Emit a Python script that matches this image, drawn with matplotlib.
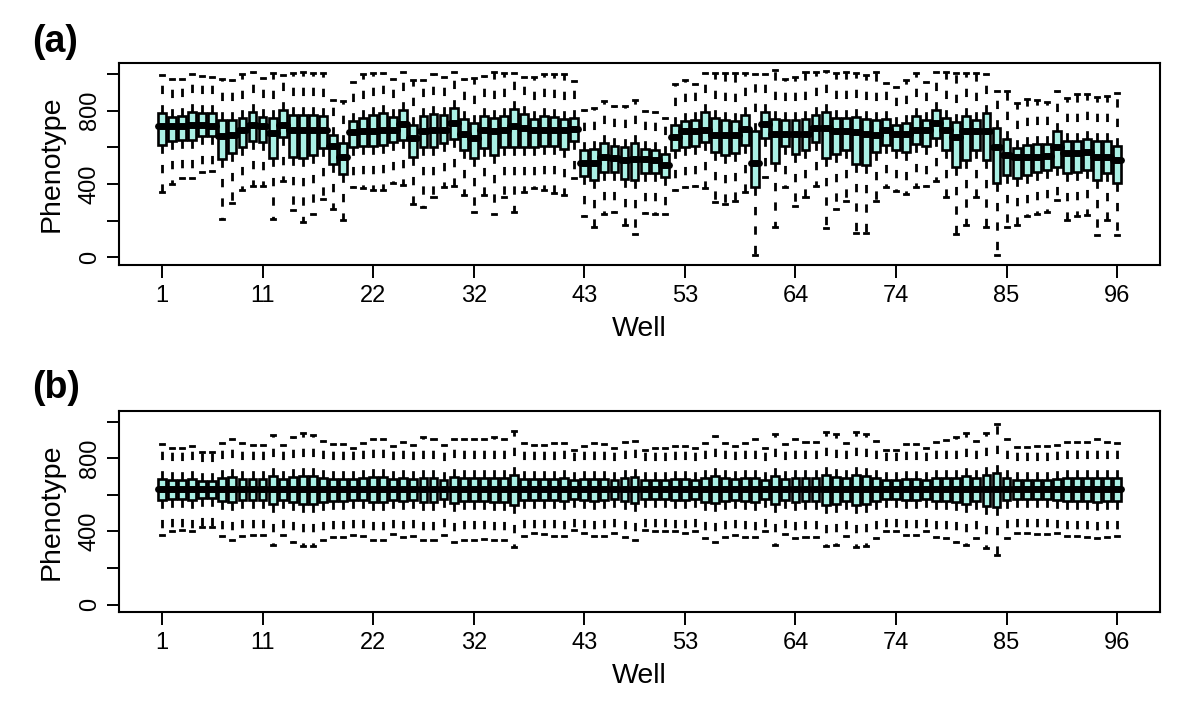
import matplotlib
matplotlib.use("Agg")
import matplotlib.pyplot as plt

TICK_FS = 17
LABEL_FS = 20.5
plt.rcParams['font.family'] = ['Liberation Sans', 'DejaVu Sans']
plt.rcParams['xtick.labelsize'] = TICK_FS
plt.rcParams['ytick.labelsize'] = TICK_FS
plt.rcParams['xtick.major.size'] = 9
plt.rcParams['ytick.major.size'] = 9
plt.rcParams['xtick.major.width'] = 1.4
plt.rcParams['ytick.major.width'] = 1.4
plt.rcParams['xtick.major.pad'] = 5
plt.rcParams['ytick.major.pad'] = 4

wells = list(range(1, 97))
xtick_wells = [1, 11, 22, 32, 43, 53, 64, 74, 85, 96]
ytick_vals = [0, 200, 400, 600, 800, 1000]
ytick_labels = ['0', '', '400', '', '800', '']

# ---------- Panel (a): raw phenotype per well ----------
a_hi = [994, 975, 970, 997, 988, 985, 970, 966, 997, 1010, 979, 1003, 992, 1003, 1010, 1003,
        1003, 857, 851, 955, 997, 1003, 1003, 970, 1010, 966, 966, 997, 985, 1010, 974, 979,
        988, 1010, 1006, 1006, 985, 985, 997, 997, 997, 961, 802, 815, 851, 824, 824, 857,
        796, 791, 760, 943, 966, 943, 1003, 1003, 1003, 1003, 1003, 997, 997, 1021, 974, 985,
        1010, 1010, 1015, 1003, 1010, 1003, 992, 1010, 952, 930, 966, 1003, 955, 1010, 1010, 1003,
        1003, 1003, 997, 906, 906, 842, 864, 860, 846, 906, 869, 893, 893, 875, 882, 897]
a_q3 = [787, 765, 769, 791, 787, 787, 751, 751, 760, 791, 765, 760, 802, 778, 778, 778,
        773, 668, 623, 745, 760, 778, 787, 765, 802, 723, 773, 784, 778, 815, 754, 733,
        769, 760, 773, 809, 784, 754, 769, 765, 754, 760, 586, 590, 623, 608, 601, 623,
        590, 586, 564, 723, 742, 747, 791, 760, 747, 742, 778, 687, 791, 754, 751, 747,
        754, 778, 791, 760, 760, 765, 754, 747, 754, 723, 733, 773, 747, 802, 760, 736,
        769, 751, 787, 705, 645, 595, 614, 619, 619, 690, 632, 632, 645, 632, 632, 608]
a_med = [714, 714, 714, 722, 722, 718, 663, 668, 696, 723, 714, 678, 723, 696, 696, 696,
         696, 605, 550, 681, 687, 687, 692, 692, 729, 650, 687, 692, 692, 732, 674, 650,
         692, 687, 692, 714, 705, 696, 692, 696, 696, 700, 517, 517, 550, 541, 531, 535,
         535, 531, 504, 659, 687, 687, 696, 668, 668, 668, 700, 517, 729, 674, 674, 674,
         674, 705, 705, 687, 687, 681, 674, 668, 692, 674, 674, 692, 696, 732, 692, 656,
         687, 687, 687, 601, 559, 550, 550, 550, 554, 601, 568, 568, 572, 550, 550, 531]
a_q1 = [614, 637, 641, 641, 663, 663, 535, 568, 601, 632, 627, 541, 656, 550, 541, 559,
        595, 510, 455, 601, 605, 608, 614, 627, 641, 550, 601, 601, 623, 645, 586, 541,
        595, 559, 601, 601, 601, 601, 605, 605, 590, 632, 444, 422, 468, 468, 426, 422,
        458, 458, 437, 586, 601, 608, 627, 577, 559, 568, 614, 382, 650, 513, 608, 564,
        586, 627, 541, 564, 586, 510, 504, 577, 614, 583, 577, 619, 605, 650, 583, 495,
        531, 586, 531, 404, 449, 431, 449, 468, 477, 495, 458, 468, 477, 422, 458, 407]
a_lo = [358, 400, 431, 431, 468, 471, 212, 294, 367, 389, 389, 212, 418, 257, 193, 235,
        316, 266, 206, 385, 376, 367, 367, 404, 394, 290, 276, 327, 385, 389, 340, 248,
        340, 239, 331, 248, 358, 376, 367, 349, 340, 431, 225, 166, 235, 248, 175, 130,
        243, 239, 235, 367, 385, 389, 376, 303, 290, 309, 358, 11, 437, 166, 385, 279,
        327, 389, 162, 266, 309, 133, 133, 309, 385, 363, 345, 385, 389, 418, 331, 130,
        175, 331, 166, 11, 166, 175, 225, 235, 248, 312, 206, 225, 230, 120, 203, 120]

# ---------- Panel (b): normalised phenotype per well ----------
b_hi = [877, 854, 854, 867, 836, 836, 881, 903, 881, 872, 872, 927, 872, 917, 936, 927,
        896, 877, 877, 859, 881, 903, 903, 867, 890, 872, 914, 908, 872, 908, 903, 903,
        903, 914, 903, 950, 881, 872, 872, 881, 881, 848, 867, 881, 877, 859, 890, 896,
        848, 859, 859, 867, 867, 859, 885, 921, 881, 867, 881, 903, 859, 932, 877, 903,
        890, 890, 945, 932, 885, 945, 932, 896, 848, 848, 877, 877, 854, 890, 899, 917,
        939, 896, 939, 990, 903, 863, 863, 867, 867, 872, 890, 890, 890, 903, 890, 881]
b_q3 = [685, 681, 681, 685, 678, 678, 690, 699, 685, 685, 685, 703, 685, 696, 703, 703,
        690, 685, 685, 685, 690, 696, 699, 685, 690, 685, 694, 694, 681, 699, 690, 690,
        690, 694, 694, 709, 685, 685, 685, 685, 690, 681, 685, 685, 685, 681, 690, 699,
        681, 681, 681, 685, 685, 681, 690, 703, 690, 685, 690, 690, 681, 703, 685, 690,
        690, 690, 707, 699, 690, 707, 703, 690, 681, 681, 685, 685, 681, 690, 690, 694,
        703, 690, 709, 721, 690, 681, 681, 681, 681, 685, 690, 690, 690, 694, 690, 690]
b_med = [630, 630, 630, 630, 630, 630, 630, 630, 630, 630, 630, 630, 630, 630, 630, 630,
         630, 630, 630, 630, 630, 630, 630, 630, 630, 630, 630, 630, 630, 630, 630, 630,
         630, 630, 630, 630, 630, 630, 630, 630, 630, 630, 630, 630, 630, 630, 630, 630,
         630, 630, 630, 630, 630, 630, 630, 630, 630, 630, 630, 630, 630, 630, 630, 630,
         630, 630, 630, 630, 630, 630, 630, 630, 630, 630, 630, 630, 630, 630, 630, 630,
         630, 630, 630, 630, 630, 630, 630, 630, 630, 630, 630, 630, 630, 630, 630, 630]
b_q1 = [572, 576, 576, 572, 581, 581, 569, 563, 572, 572, 572, 550, 572, 563, 550, 550,
        563, 569, 569, 572, 572, 563, 563, 572, 569, 572, 563, 563, 576, 558, 569, 569,
        569, 563, 563, 545, 572, 572, 572, 572, 569, 576, 572, 569, 572, 576, 569, 558,
        576, 576, 576, 572, 572, 576, 563, 554, 569, 572, 569, 563, 576, 550, 572, 563,
        569, 569, 545, 550, 569, 545, 550, 569, 576, 576, 572, 572, 576, 569, 569, 563,
        550, 569, 540, 536, 572, 576, 576, 576, 576, 572, 569, 569, 569, 563, 569, 569]
b_lo = [381, 405, 409, 405, 423, 423, 376, 354, 376, 381, 381, 327, 381, 340, 318, 318,
        351, 372, 372, 381, 376, 354, 354, 387, 369, 376, 351, 354, 381, 345, 354, 354,
        358, 351, 354, 314, 376, 390, 387, 376, 376, 409, 390, 376, 376, 394, 369, 354,
        409, 400, 400, 400, 394, 400, 363, 340, 372, 381, 369, 372, 400, 327, 387, 363,
        372, 372, 318, 327, 376, 314, 318, 363, 405, 405, 381, 381, 400, 372, 363, 345,
        327, 363, 309, 272, 363, 390, 390, 387, 387, 390, 376, 376, 372, 363, 369, 376]

BOX_COLOR = '#aaf0e4'


def draw_panel(ax, lo, q1, med, q3, hi):
    stats = []
    for i in range(len(wells)):
        stats.append(dict(whislo=lo[i], q1=q1[i], med=med[i], q3=q3[i], whishi=hi[i], fliers=[]))
    ax.bxp(stats, positions=wells, widths=0.78, patch_artist=True, showfliers=False,
           manage_ticks=False, capwidths=0.4,
           boxprops=dict(facecolor=BOX_COLOR, edgecolor='black', linewidth=1.9),
           whiskerprops=dict(color='black', linewidth=2.0, linestyle=(0, (3.0, 4.0))),
           capprops=dict(color='black', linewidth=2.0),
           medianprops=dict(color='black', linewidth=5.0, solid_capstyle='round', zorder=3))
    ax.set_xlim(-3.3, 100.3)
    ax.set_ylim(-42, 1060)
    ax.set_xticks(xtick_wells)
    ax.set_xticklabels([str(w) for w in xtick_wells], fontsize=TICK_FS)
    ax.set_yticks(ytick_vals)
    ax.set_yticklabels(ytick_labels, rotation=90, va='center', fontsize=TICK_FS)
    for s in ax.spines.values():
        s.set_linewidth(1.5)
    ax.set_xlabel('Well', fontsize=LABEL_FS, labelpad=7)
    ax.set_ylabel('Phenotype', fontsize=LABEL_FS, labelpad=10)


fig = plt.figure(figsize=(12, 7.07), dpi=100)
ax_a = fig.add_axes([0.099, 0.625, 0.868, 0.286])
ax_b = fig.add_axes([0.099, 0.134, 0.868, 0.285])

draw_panel(ax_a, a_lo, a_q1, a_med, a_q3, a_hi)
draw_panel(ax_b, b_lo, b_q1, b_med, b_q3, b_hi)

fig.text(0.027, 1 - 42 / 707, '(a)', fontsize=27, fontweight='bold', va='center', ha='left')
fig.text(0.027, 1 - 388 / 707, '(b)', fontsize=27, fontweight='bold', va='center', ha='left')

fig.savefig('out.png', dpi=100)
